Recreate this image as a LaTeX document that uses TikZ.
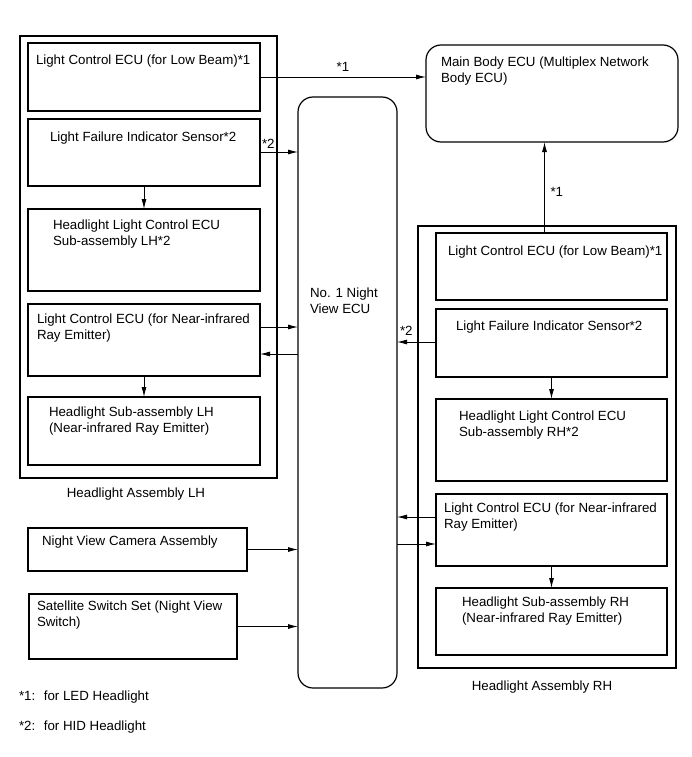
\documentclass[tikz,border=0pt]{standalone}
\usepackage{fontspec}
\setmainfont{Liberation Sans}
\usetikzlibrary{arrows.meta,positioning}
\tikzstyle{every node}+=[inner sep=0pt,outer sep=0pt,font=\fontsize{13.3}{16}\selectfont]
\tikzstyle{every path}+=[line width=0.9pt]
\tikzstyle{box}=[draw,line width=1.9pt,anchor=north west,minimum width=232]
\tikzstyle{ecu}=[draw,line width=1.2pt,rounded corners=15pt,anchor=north west]
\tikzstyle{txt}=[anchor=base west,align=left]
\tikzstyle{arr}=[>={Latex[length=10pt,width=5pt]},->]
\newcommand{\drawarrows}[2][]{
	\foreach \a/\b in {#2}{
		\draw[arr,#1] (\a.south) -- (\b.north);
	}
}
\newcommand{\hlinks}[2][]{
	\foreach \a/\d/\b in {#2}{
		\draw[arr,#1] ([yshift=-\d]\a) coordinate (p) -- (p -| \b);
	}
}

\begin{document}
\begin{tikzpicture}[x=1pt,y=-1pt]

\useasboundingbox (0,0) rectangle (691,757);

\node[box,minimum width=257,minimum height=442] (lhall) at (20,36) {};
\node[anchor=base] (lhlab) at (136,497) {Headlight Assembly LH};

\node[box,minimum height=68] (lh1) at (28,43) {};
\node[box,minimum height=67,below=8pt of lh1] (lh2) {};
\node[box,minimum height=82,below=23pt of lh2] (lh3) {};
\node[box,minimum height=72,below=13pt of lh3] (lh4) {};
\node[box,minimum height=68,below=21pt of lh4] (lh5) {};

\node[txt] (lh1t) at ([xshift=8pt,yshift=-22pt]lh1.north west) {Light Control ECU (for Low Beam)*1};
\node[txt] (lh2t) at ([xshift=22pt,yshift=-23pt]lh2.north west) {Light Failure Indicator Sensor*2};
\node[txt] (lh3t) at ([xshift=25pt,yshift=-36pt]lh3.north west) {Headlight Light Control ECU\\Sub-assembly LH*2};
\node[txt] (lh4t) at ([xshift=9pt,yshift=-35pt]lh4.north west) {Light Control ECU (for Near-infrared\\Ray Emitter)};
\node[txt] (lh5t) at ([xshift=21pt,yshift=-35pt]lh5.north west) {Headlight Sub-assembly LH\\(Near-infrared Ray Emitter)};

\node[box,minimum width=219,minimum height=43] (cam) at (28,528) {};
\node[txt] (camt) at ([xshift=14pt,yshift=-17pt]cam.north west) {Night View Camera Assembly};
\node[box,minimum width=208,minimum height=65] (sw) at (29,594) {};
\node[txt] (swt) at ([xshift=8pt,yshift=-32pt]sw.north west) {Satellite Switch Set (Night View\\Switch)};

\node[ecu,minimum width=99,minimum height=591] (nv) at (298,97) {};
\node[txt] (nvt) at ([xshift=12pt,yshift=-216pt]nv.north west) {No. 1 Night\\View ECU};

\node[ecu,minimum width=252,minimum height=97] (mb) at (426,45) {};
\node[txt] (mbt) at ([xshift=15pt,yshift=-38pt]mb.north west) {Main Body ECU (Multiplex Network\\Body ECU)};

\node[box,minimum width=258,minimum height=442] (rhall) at (418,226) {};
\node[anchor=base] (rhlab) at (542,690) {Headlight Assembly RH};

\node[box,minimum width=231,minimum height=67] (rh1) at (436,233) {};
\node[box,minimum width=231,minimum height=68,below=9pt of rh1] (rh2) {};
\node[box,minimum width=231,minimum height=82,below=22pt of rh2] (rh3) {};
\node[box,minimum width=231,minimum height=72,below=13pt of rh3] (rh4) {};
\node[box,minimum width=231,minimum height=67,below=22pt of rh4] (rh5) {};

\node[txt] (rh1t) at ([xshift=12pt,yshift=-22pt]rh1.north west) {Light Control ECU (for Low Beam)*1};
\node[txt] (rh2t) at ([xshift=20pt,yshift=-21pt]rh2.north west) {Light Failure Indicator Sensor*2};
\node[txt] (rh3t) at ([xshift=23pt,yshift=-37pt]rh3.north west) {Headlight Light Control ECU\\Sub-assembly RH*2};
\node[txt] (rh4t) at ([xshift=8pt,yshift=-34pt]rh4.north west) {Light Control ECU (for Near-infrared\\Ray Emitter)};
\node[txt] (rh5t) at ([xshift=26pt,yshift=-34pt]rh5.north west) {Headlight Sub-assembly RH\\(Near-infrared Ray Emitter)};

\drawarrows{lh2/lh3,lh4/lh5,rh2/rh3,rh4/rh5}
\hlinks{lh2.north east/33/nv.west,lh4.north east/23/nv.west,rh2.north west/33/nv.east,rh4.north west/23/nv.east}
\hlinks[<-]{lh4.north east/50/nv.west,rh4.north west/50/nv.east}
\hlinks{cam.east/0/nv.west,sw.east/0/nv.west}

\draw[arr] ([yshift=-34]lh1.north east) coordinate (q1) -- (q1 -| mb.west)
	node[midway,anchor=base,yshift=5pt] (s1) {*1};
\draw[arr] ([xshift=-7]rh1.north) coordinate (q2) -- (q2 |- mb.south)
	node[midway,anchor=base west,xshift=6pt,yshift=-9pt] (s2) {*1};
\node[anchor=base west] (s3) at ([xshift=2pt,yshift=-29pt]lh2.north east) {*2};
\node[anchor=base west] (s4) at ([xshift=3pt,yshift=-26pt]nv.north east |- rh2.north) {*2};

\node[anchor=base west] (fn1) at (19,700) {*1:~ for LED Headlight};
\node[anchor=base west] (fn2) at (19,730) {*2:~ for HID Headlight};

\end{tikzpicture}
\end{document}
